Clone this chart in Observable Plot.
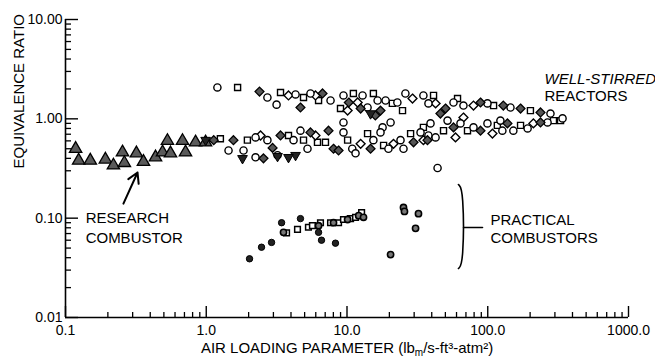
<!DOCTYPE html>
<html><head><meta charset="utf-8">
<script src="https://cdn.jsdelivr.net/npm/d3@7"></script>
<script src="https://cdn.jsdelivr.net/npm/@observablehq/plot@0.6"></script>
<style>
body{margin:0;background:#fff;}
#chart svg{display:block;}
</style></head><body><div id="chart"></div>
<script>
// ---- axis ticks ----
const xMajor = [0.1, 1, 10, 100, 1000];
const xTickLabels = ["0.1", "1.0", "10.0", "100.0", "1000.0"];
const yMajor = [0.01, 0.1, 1, 10];
const yTickLabels = ["0.01", "0.10", "1.00", "10.00"];
const minorMult = [2, 3, 4, 5, 6, 7, 8, 9];

// ---- research combustor (filled triangles) ----
const researchTriangles = [
  [0.118,0.50],[0.124,0.38],[0.150,0.38],[0.192,0.39],[0.219,0.34],[0.254,0.46],
  [0.262,0.36],[0.319,0.45],[0.358,0.37],[0.436,0.41],[0.489,0.46],[0.530,0.60],
  [0.557,0.45],[0.678,0.60],[0.712,0.46],[0.839,0.58],[0.988,0.58]
];

// ---- well-stirred reactors ----
const wsrCircles = [
  [1.20,2.07],[2.72,1.64],[3.16,1.39],[4.31,1.76],[5.50,1.80],[7.64,1.53],[9.44,1.72],
  [12.9,1.72],[14.0,1.30],[16.5,1.53],[18.8,1.53],[22.8,1.46],[26.0,1.80],[34.9,1.72],
  [37.9,1.43],[57.1,1.46],[67.2,1.36],[99.5,1.43],[145,1.30],[279,1.13],[20.4,0.92],
  [17.9,0.82],[9.44,0.92],[123,0.96],[1.44,0.48],[1.84,0.48],[2.24,0.65],[2.72,0.61],
  [3.21,0.43],[4.17,0.61],[4.67,0.76],[5.24,0.50],[9.44,0.73],[10.9,0.50],[11.5,0.45],
  [15.4,0.61],[17.3,0.73],[19.7,0.50],[24.0,0.61],[25.2,0.50],[33.3,0.73],[37.9,0.68],
  [39.2,0.90],[42.6,0.65],[51.8,0.96],[64.0,0.90],[79.2,0.82],[99.5,0.90],[127,0.76],
  [152,0.76],[192,0.80],[266,0.92],[340,1.01],[2.24,0.41],[44.0,0.32]
];
const wsrSquares = [
  [1.67,2.07],[3.37,1.84],[4.91,1.64],[6.28,1.53],[11.1,1.80],[8.99,1.27],[15.4,1.80],
  [21.0,1.43],[24.8,1.21],[41.2,1.72],[61.0,1.60],[110,1.36],[201,1.21],[329,0.96],
  [1.26,0.63],[1.96,0.61],[3.84,0.68],[4.91,0.61],[6.17,0.58],[7.03,0.58],[10.1,0.61],
  [14.0,0.71],[18.2,0.54],[28.3,0.71],[34.9,0.82],[48.5,0.76],[71.8,0.76],[117,0.86],
  [171,0.86],[293,0.96]
];
const wsrDiamonds = [
  [3.84,1.72],[5.97,1.72],[11.9,1.46],[10.1,1.21],[29.2,1.60],[42.6,1.43],[79.2,1.36],
  [67.2,1.03],[2.43,0.68],[5.97,0.68],[12.5,0.56],[21.4,0.56],[34.9,0.61],[59.0,0.65],
  [108,0.71],[211,0.90]
];
const wsrFilled = [
  [2.39,1.88],[4.67,1.30],[6.70,1.80],[10.3,1.46],[12.5,1.27],[17.3,1.21],[15.9,1.08],
  [50.1,1.27],[88.8,1.46],[129,1.36],[171,1.27],[237,1.16],[7.39,0.76],[46.1,1.13],
  [1.13,0.61],[1.56,0.61],[2.96,0.51],[3.37,0.68],[5.50,0.73],[8.02,0.50],[8.71,0.48],
  [14.7,0.50],[29.7,0.58],[37.3,0.61],[57.1,0.82],[88.8,0.76],[138,0.90],[237,0.92],
  [2.55,0.40]
];
const wsrTriangles = [
  [14.7,1.13],[0.99,0.61],[4.31,0.43],[1.81,0.40],[3.21,0.42],[3.84,0.41]
];

// ---- practical combustors ----
const practicalFilled = [
  [2.03,0.039],[2.47,0.051],[2.91,0.057],[3.43,0.090],[4.67,0.099],[6.28,0.072],
  [6.59,0.060],[8.28,0.056]
];
const practicalCircles = [
  [3.54,0.072],[6.28,0.084],[8.02,0.090],[10.1,0.097],[12.1,0.106],[13.1,0.102],
  [20.4,0.043],[25.2,0.128],[25.6,0.117],[32.2,0.111],[30.7,0.079]
];
const practicalSquares = [
  [3.72,0.071],[4.45,0.077],[5.32,0.081],[5.68,0.084],[6.48,0.090],[7.64,0.090],
  [8.71,0.090],[9.44,0.097],[10.6,0.099],[11.5,0.102],[12.7,0.114]
];

// ---- annotation anchors (data units) ----
const researchLabel = [0.139, 0.0824];
const researchArrow = [[0.258, 0.14, 0.325, 0.288]];
const wsrLabel1 = [253, 2.49];
const wsrLabel2 = [253, 1.68];
const practicalLabel = [104.6, 0.0787];
const bracketPts = [[61.9,0.218],[67.3,0.194],[67.3,0.035],[61.9,0.0311]];
const bracketStub = [[67.3,0.0805],[91.8,0.0805]];

const xLabel = "AIR LOADING PARAMETER (lbm/s-ft³-atm²)";
const yLabel = "EQUIVALENCE RATIO";

const W = 655, H = 360, mL = 65, mR = 27, mT = 19, mB = 43;
const plotW = W - mL - mR, plotH = H - mT - mB;
const xMinor = xMajor.slice(0, -1).flatMap(d => minorMult.map(m => d * m));
const yMinor = yMajor.slice(0, -1).flatMap(d => minorMult.map(m => d * m));
const X = d => d[0], Y = d => d[1];
const font = "'Liberation Sans', Arial, Helvetica, sans-serif";

const plot = Plot.plot({
  width: W, height: H, marginLeft: mL, marginRight: mR, marginTop: mT, marginBottom: mB,
  x: {type: "log", domain: [0.1, 1000]},
  y: {type: "log", domain: [0.01, 10]},
  style: {fontFamily: font, fontSize: "14px", color: "#000", background: "#fff"},
  marks: [
    // tick labels
    Plot.axisX(xMajor, {tickSize: 0, tickPadding: 8, label: null, fontSize: 14,
      tickFormat: d => xTickLabels[xMajor.indexOf(d)]}),
    Plot.axisY(yMajor, {tickSize: 0, tickPadding: 3, label: null, fontSize: 14,
      tickFormat: d => yTickLabels[yMajor.indexOf(d)]}),
    // inside ticks
    Plot.tickX(xMajor, {x: d => d, insetTop: plotH - 11, stroke: "#000", strokeWidth: 1.4}),
    Plot.tickX(xMinor, {x: d => d, insetTop: plotH - 5, stroke: "#000", strokeWidth: 1.3}),
    Plot.tickY(yMajor, {y: d => d, insetRight: plotW - 13, stroke: "#000", strokeWidth: 1.4}),
    Plot.tickY(yMinor, {y: d => d, insetRight: plotW - 6, stroke: "#000", strokeWidth: 1.3}),
    Plot.ruleX([0.1], {stroke: "#000", strokeWidth: 1.6}),
    Plot.ruleY([0.01], {stroke: "#000", strokeWidth: 1.6}),
    // axis titles
    Plot.text([yLabel], {text: d => d, frameAnchor: "left", dx: -46, rotate: -90, fontSize: 15}),
    Plot.text([xLabel], {text: d => d, frameAnchor: "bottom", dy: 35, fontSize: 15}),
    // research combustor
    Plot.dot(researchTriangles, {x: X, y: Y, symbol: "triangle", r: 4.6, fill: "#5a5a5a", stroke: "#000", strokeWidth: 1.3}),
    // well-stirred reactors
    Plot.dot(wsrSquares, {x: X, y: Y, symbol: "square", r: 3.4, fill: "#fff", stroke: "#000", strokeWidth: 1.4}),
    Plot.dot(wsrDiamonds, {x: X, y: Y, symbol: "diamond2", r: 4, fill: "#fff", stroke: "#000", strokeWidth: 1.4}),
    Plot.dot(wsrCircles, {x: X, y: Y, symbol: "circle", r: 3.6, fill: "#fff", stroke: "#000", strokeWidth: 1.4}),
    Plot.dot(wsrFilled, {x: X, y: Y, symbol: "diamond2", r: 4, fill: "#555", stroke: "#000", strokeWidth: 1.3}),
    Plot.dot(wsrTriangles, {x: X, y: Y, symbol: "triangle", r: 3.6, fill: "#222", stroke: "#000", strokeWidth: 1, rotate: 180}),
    // practical combustors
    Plot.dot(practicalSquares, {x: X, y: Y, symbol: "square", r: 3.2, fill: "#fff", stroke: "#000", strokeWidth: 1.5}),
    Plot.dot(practicalCircles, {x: X, y: Y, symbol: "circle", r: 3.1, fill: "#777", stroke: "#000", strokeWidth: 1.6}),
    Plot.dot(practicalFilled, {x: X, y: Y, symbol: "circle", r: 3.2, fill: "#222", stroke: "#000", strokeWidth: 1}),
    // annotations
    Plot.text(["RESEARCH\nCOMBUSTOR"], {x: researchLabel[0], y: researchLabel[1], text: d => d, textAnchor: "start", lineHeight: 1.3, fontSize: 15}),
    Plot.arrow(researchArrow, {x1: d => d[0], y1: d => d[1], x2: d => d[2], y2: d => d[3], stroke: "#000", strokeWidth: 2, headLength: 9}),
    Plot.text(["WELL-STIRRED"], {x: wsrLabel1[0], y: wsrLabel1[1], text: d => d, textAnchor: "start", fontStyle: "italic", fontSize: 15}),
    Plot.text(["REACTORS"], {x: wsrLabel2[0], y: wsrLabel2[1], text: d => d, textAnchor: "start", fontSize: 15}),
    Plot.text(["PRACTICAL\nCOMBUSTORS"], {x: practicalLabel[0], y: practicalLabel[1], text: d => d, textAnchor: "start", lineHeight: 1.22, fontSize: 15}),
    Plot.line(bracketPts, {x: X, y: Y, stroke: "#000", strokeWidth: 1.6, curve: "basis"}),
    Plot.line(bracketStub, {x: X, y: Y, stroke: "#000", strokeWidth: 1.6})
  ]
});

// subscript m / superscripts in x label
d3.select(plot).selectAll("text").filter(function () { return this.textContent === xLabel; })
  .each(function () {
    const t = d3.select(this);
    t.text(null);
    t.append("tspan").text("AIR LOADING PARAMETER (lb");
    t.append("tspan").attr("dy", 3).attr("font-size", 10).text("m");
    t.append("tspan").attr("dy", -3).text("/s-ft³-atm²)");
  });

document.getElementById("chart").appendChild(plot);
</script></body></html>
